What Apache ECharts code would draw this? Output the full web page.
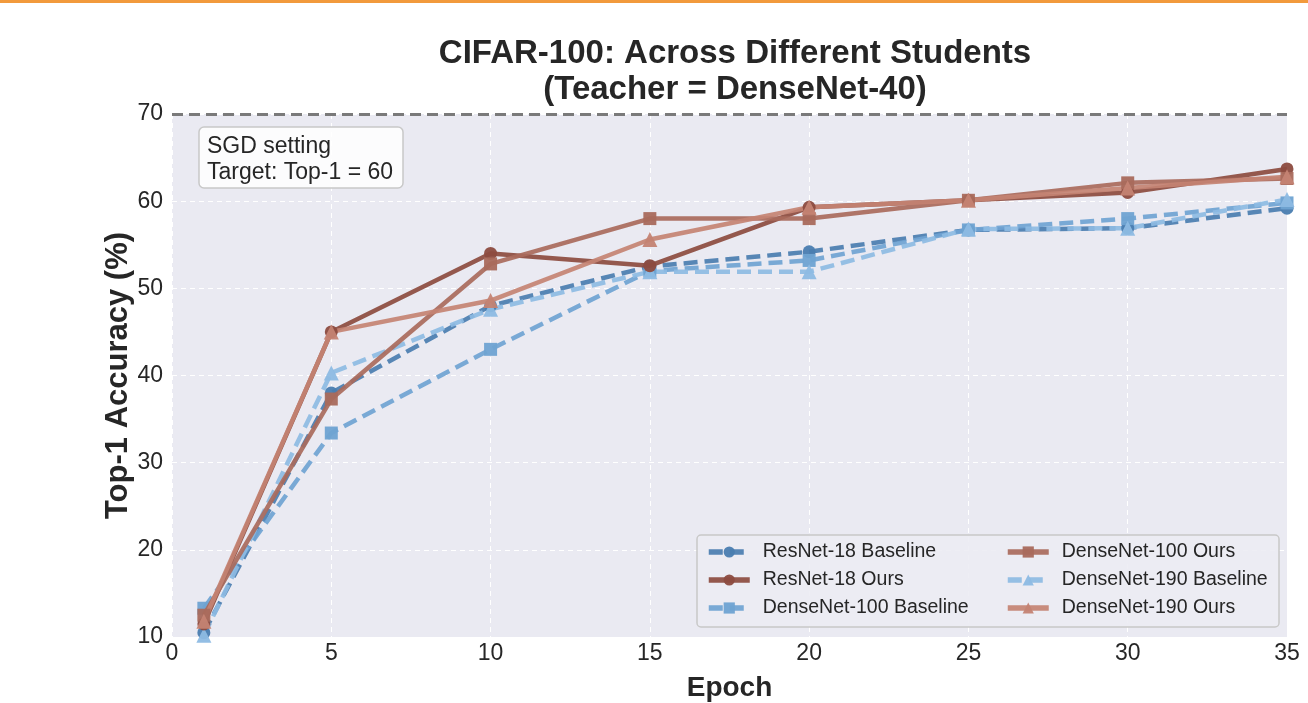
<!DOCTYPE html>
<html>
<head>
<meta charset="utf-8">
<script src="https://cdn.jsdelivr.net/npm/echarts@6/dist/echarts.min.js"></script>
<style>
html,body{margin:0;padding:0;background:#fff;}
#chart{width:1308px;height:703px;}
</style>
</head>
<body>
<div id="chart"></div>
<script>
const epochs = [1, 5, 10, 15, 20, 25, 30, 35];
const resnet18Baseline = [10.5, 38.0, 48.0, 52.5, 54.2, 56.7, 56.9, 59.2];
const resnet18Ours = [11.5, 45.0, 54.0, 52.6, 59.3, 60.1, 61.0, 63.7];
const densenet100Baseline = [13.3, 33.4, 43.0, 52.0, 53.2, 56.7, 58.0, 59.8];
const densenet100Ours = [12.5, 37.3, 52.8, 58.0, 58.0, 60.1, 62.1, 62.6];
const densenet190Baseline = [10.2, 40.3, 47.6, 51.9, 51.9, 56.8, 56.9, 60.2];
const densenet190Ours = [11.8, 45.0, 48.6, 55.6, 59.3, 60.1, 61.5, 62.8];
const referenceLine = 70;
const xTicks = {min: 0, max: 35, interval: 5};
const yTicks = {min: 10, max: 70, interval: 10};

const FONT = '"Liberation Sans", Arial, sans-serif';
const pairs = arr => epochs.map((e, i) => [e, arr[i]]);

function mkSeries(name, data, color, symbol, dashed, size) {
  return {
    name: name,
    type: 'line',
    data: pairs(data),
    symbol: symbol,
    symbolSize: size,
    showSymbol: true,
    clip: true,
    lineStyle: {color: color, width: 4.5, type: dashed ? [14, 7] : 'solid', opacity: 0.92},
    itemStyle: {color: color, opacity: 0.95},
    emphasis: {disabled: true},
    z: dashed ? 3 : 4
  };
}

const series = [
  mkSeries('ResNet-18 Baseline', resnet18Baseline, '#4a7db0', 'circle', true, 13),
  mkSeries('ResNet-18 Ours', resnet18Ours, '#8c4b3f', 'circle', false, 13),
  mkSeries('DenseNet-100 Baseline', densenet100Baseline, '#6fa3d2', 'rect', true, 13),
  mkSeries('DenseNet-100 Ours', densenet100Ours, '#a96a5c', 'rect', false, 13),
  mkSeries('DenseNet-190 Baseline', densenet190Baseline, '#8dbbe3', 'triangle', true, 15),
  mkSeries('DenseNet-190 Ours', densenet190Ours, '#c48373', 'triangle', false, 15)
];
series[0].markLine = {
  silent: true,
  symbol: 'none',
  label: {show: false},
  lineStyle: {color: '#7a7a7a', type: [11, 6], width: 3},
  data: [{yAxis: referenceLine}]
};

const legendText = {fontFamily: FONT, fontSize: 19.5, color: '#262626', padding: [0, 0, 0, 8]};
const legendBase = {
  orient: 'vertical', top: 542, itemGap: 8, itemWidth: 41, itemHeight: 14, z: 10, padding: 0,
  textStyle: legendText, selectedMode: false,
  lineStyle: {width: 5.5}
};

const chart = echarts.init(document.getElementById('chart'), null, {renderer: 'canvas'});
chart.setOption({
  animation: false,
  backgroundColor: '#ffffff',
  textStyle: {fontFamily: FONT},
  title: {
    text: 'CIFAR-100: Across Different Students\n(Teacher = DenseNet-40)',
    left: 730, top: 31, textAlign: 'center',
    textStyle: {fontFamily: FONT, fontSize: 33, fontWeight: 'bold', color: '#262626', lineHeight: 36}
  },
  grid: {left: 172, right: 21, top: 114, bottom: 66, show: true, backgroundColor: '#eaeaf2', borderWidth: 0,
         outerBoundsMode: 'none', containLabel: false},
  xAxis: {
    type: 'value', min: xTicks.min, max: xTicks.max, interval: xTicks.interval,
    name: 'Epoch', nameLocation: 'middle', nameGap: 37, nameMoveOverlap: false,
    nameTextStyle: {fontFamily: FONT, fontSize: 28, fontWeight: 'bold', color: '#262626'},
    axisLine: {show: false}, axisTick: {show: false},
    axisLabel: {fontFamily: FONT, fontSize: 23, color: '#262626', margin: 5},
    splitLine: {show: true, lineStyle: {color: '#ffffff', type: [5, 4], width: 1}}
  },
  yAxis: {
    type: 'value', min: yTicks.min, max: yTicks.max, interval: yTicks.interval,
    name: 'Top-1 Accuracy (%)', nameLocation: 'middle', nameGap: 38, nameMoveOverlap: false,
    nameTextStyle: {fontFamily: FONT, fontSize: 31, fontWeight: 'bold', color: '#262626'},
    axisLine: {show: false}, axisTick: {show: false},
    axisLabel: {fontFamily: FONT, fontSize: 23, color: '#262626', margin: 9},
    splitLine: {show: true, lineStyle: {color: '#ffffff', type: [5, 4], width: 1}}
  },
  legend: [
    Object.assign({}, legendBase, {left: 706, data: ['ResNet-18 Baseline', 'ResNet-18 Ours', 'DenseNet-100 Baseline']}),
    Object.assign({}, legendBase, {left: 1005, data: ['DenseNet-100 Ours', 'DenseNet-190 Baseline', 'DenseNet-190 Ours']})
  ],
  graphic: [
    {type: 'rect', shape: {x: 0, y: 0, width: 1308, height: 3}, style: {fill: '#f29a3c'}, z: 10},
    {type: 'rect', shape: {x: 697, y: 535, width: 582, height: 92, r: 4},
     style: {fill: 'rgba(236,236,243,0.9)', stroke: '#c8c8c8', lineWidth: 1.5}, z: 5},
    {type: 'rect', shape: {x: 199, y: 127, width: 204, height: 61, r: 5},
     style: {fill: 'rgba(255,255,255,0.85)', stroke: '#c8c8c8', lineWidth: 1.5}, z: 5},
    {type: 'text', x: 207, y: 134, z: 6,
     style: {text: 'SGD setting\nTarget: Top-1 = 60', font: '23px "Liberation Sans", Arial, sans-serif', fill: '#262626', lineHeight: 26}}
  ],
  series: series
});
</script>
</body>
</html>
